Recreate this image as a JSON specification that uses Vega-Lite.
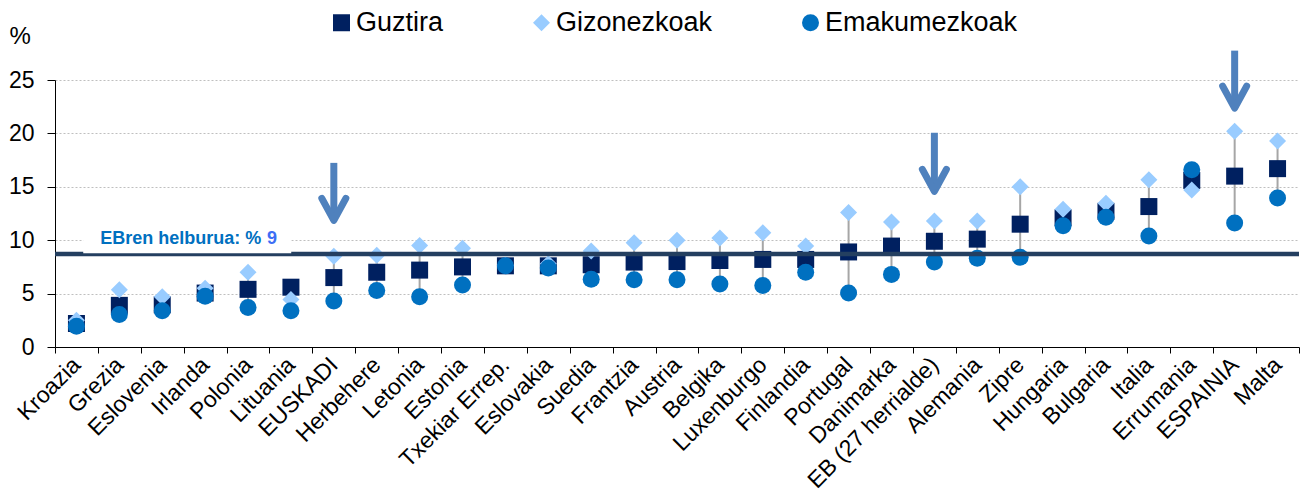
{
  "$schema": "https://vega.github.io/schema/vega-lite/v6.json",
  "autosize": {"type": "none"},
  "width": 1244,
  "height": 267,
  "padding": {"left": 55, "top": 80, "right": 11, "bottom": 155},
  "background": "white",
  "config": {"view": {"stroke": null}, "font": "Liberation Sans"},
  "datasets": {
    "tasa": [
      {"pais": "Kroazia", "Guztira": 2.2, "Gizonezkoak": 2.5, "Emakumezkoak": 1.95},
      {"pais": "Grezia", "Guztira": 3.9, "Gizonezkoak": 5.35, "Emakumezkoak": 3.05},
      {"pais": "Eslovenia", "Guztira": 3.95, "Gizonezkoak": 4.7, "Emakumezkoak": 3.4},
      {"pais": "Irlanda", "Guztira": 5.05, "Gizonezkoak": 5.5, "Emakumezkoak": 4.75},
      {"pais": "Polonia", "Guztira": 5.4, "Gizonezkoak": 7.0, "Emakumezkoak": 3.7},
      {"pais": "Lituania", "Guztira": 5.6, "Gizonezkoak": 4.45, "Emakumezkoak": 3.4},
      {"pais": "EUSKADI", "Guztira": 6.5, "Gizonezkoak": 8.5, "Emakumezkoak": 4.3},
      {"pais": "Herbehere", "Guztira": 7.0, "Gizonezkoak": 8.6, "Emakumezkoak": 5.3},
      {"pais": "Letonia", "Guztira": 7.2, "Gizonezkoak": 9.5, "Emakumezkoak": 4.7},
      {"pais": "Estonia", "Guztira": 7.5, "Gizonezkoak": 9.25, "Emakumezkoak": 5.8},
      {"pais": "Txekiar Errep.", "Guztira": 7.6, "Gizonezkoak": 7.65, "Emakumezkoak": 7.6},
      {"pais": "Eslovakia", "Guztira": 7.6, "Gizonezkoak": 7.8, "Emakumezkoak": 7.4},
      {"pais": "Suedia", "Guztira": 7.7, "Gizonezkoak": 9.0, "Emakumezkoak": 6.35},
      {"pais": "Frantzia", "Guztira": 7.95, "Gizonezkoak": 9.75, "Emakumezkoak": 6.3},
      {"pais": "Austria", "Guztira": 8.0, "Gizonezkoak": 10.0, "Emakumezkoak": 6.3},
      {"pais": "Belgika", "Guztira": 8.1, "Gizonezkoak": 10.2, "Emakumezkoak": 5.9},
      {"pais": "Luxenburgo", "Guztira": 8.2, "Gizonezkoak": 10.7, "Emakumezkoak": 5.75},
      {"pais": "Finlandia", "Guztira": 8.2, "Gizonezkoak": 9.45, "Emakumezkoak": 7.0},
      {"pais": "Portugal", "Guztira": 8.9, "Gizonezkoak": 12.6, "Emakumezkoak": 5.05},
      {"pais": "Danimarka", "Guztira": 9.45, "Gizonezkoak": 11.7, "Emakumezkoak": 6.8},
      {"pais": "EB (27 herrialde)", "Guztira": 9.9, "Gizonezkoak": 11.8, "Emakumezkoak": 7.95},
      {"pais": "Alemania", "Guztira": 10.1, "Gizonezkoak": 11.8, "Emakumezkoak": 8.3},
      {"pais": "Zipre", "Guztira": 11.5, "Gizonezkoak": 15.0, "Emakumezkoak": 8.4},
      {"pais": "Hungaria", "Guztira": 12.1, "Gizonezkoak": 12.9, "Emakumezkoak": 11.35},
      {"pais": "Bulgaria", "Guztira": 12.7, "Gizonezkoak": 13.45, "Emakumezkoak": 12.15},
      {"pais": "Italia", "Guztira": 13.15, "Gizonezkoak": 15.65, "Emakumezkoak": 10.4},
      {"pais": "Errumania", "Guztira": 15.6, "Gizonezkoak": 14.7, "Emakumezkoak": 16.6},
      {"pais": "ESPAINIA", "Guztira": 16.0, "Gizonezkoak": 20.2, "Emakumezkoak": 11.6},
      {"pais": "Malta", "Guztira": 16.7, "Gizonezkoak": 19.3, "Emakumezkoak": 13.95}
    ],
    "arrows": [
      {"pais": "EUSKADI", "top": 17.24, "tip": 11.86},
      {"pais": "EB (27 herrialde)", "top": 20.06, "tip": 14.57},
      {"pais": "ESPAINIA", "top": 27.75, "tip": 22.37}
    ],
    "target": [
      {"value": 8.7, "label": "EBren helburua: % ", "num": "9", "boxLo": 8.78, "boxHi": 11.2, "textY": 10.13}
    ]
  },
  "layer": [
    {
      "data": {"name": "tasa"},
      "transform": [
        {"fold": ["Guztira", "Gizonezkoak", "Emakumezkoak"], "as": ["serie", "valor"]},
        {"aggregate": [{"op": "min", "field": "valor", "as": "lo"}, {"op": "max", "field": "valor", "as": "hi"}], "groupby": ["pais"]}
      ],
      "mark": {"type": "rule", "color": "#a6a6a6", "strokeWidth": 2},
      "encoding": {
        "x": {
          "field": "pais", "type": "nominal", "sort": null,
          "axis": {
            "title": null, "labelAngle": -45, "labelAlign": "right", "labelBaseline": "middle",
            "labelFontSize": 23, "labelColor": "#000", "labelLimit": 0,
            "tickBand": "extent", "tickSize": 6, "tickColor": "#000", "domainColor": "#000",
            "labelPadding": 8, "grid": false
          }
        },
        "y": {
          "field": "lo", "type": "quantitative",
          "scale": {"domain": [0, 25], "nice": false},
          "axis": {
            "title": "%", "titleAngle": 0, "titleFontSize": 24, "titleFontWeight": "normal",
            "titleColor": "#000", "titleAlign": "left", "titleBaseline": "alphabetic",
            "titleX": -46, "titleY": -37,
            "values": [0, 5, 10, 15, 20, 25], "labelFontSize": 23, "labelColor": "#000",
            "tickSize": 8, "labelPadding": 13, "domainColor": "#000", "tickColor": "#000",
            "gridColor": "#bfbfbf", "gridDash": [2, 2]
          }
        },
        "y2": {"field": "hi"}
      }
    },
    {
      "data": {"name": "tasa"},
      "transform": [
        {"fold": ["Guztira", "Gizonezkoak", "Emakumezkoak"], "as": ["serie", "valor"]}
      ],
      "mark": {"type": "point", "filled": true, "opacity": 1, "size": 289},
      "encoding": {
        "x": {"field": "pais", "type": "nominal", "sort": null},
        "y": {"field": "valor", "type": "quantitative"},
        "color": {
          "field": "serie", "type": "nominal",
          "scale": {"domain": ["Guztira", "Gizonezkoak", "Emakumezkoak"], "range": ["#002060", "#99ccff", "#0070c0"]},
          "legend": {
            "orient": "none", "legendX": 273, "legendY": -71, "direction": "horizontal", "title": null,
            "labelFontSize": 27, "labelColor": "#000", "labelLimit": 0, "symbolSize": 289, "labelOffset": 1,
            "columnPadding": 84, "symbolOpacity": 1, "symbolStrokeWidth": 0
          }
        },
        "shape": {
          "field": "serie", "type": "nominal",
          "scale": {"domain": ["Guztira", "Gizonezkoak", "Emakumezkoak"], "range": ["square", "diamond", "circle"]},
          "legend": {
            "orient": "none", "legendX": 273, "legendY": -71, "direction": "horizontal", "title": null,
            "labelFontSize": 27, "labelColor": "#000", "labelLimit": 0, "symbolSize": 289, "labelOffset": 1,
            "columnPadding": 84, "symbolOpacity": 1, "symbolStrokeWidth": 0
          }
        }
      }
    },
    {
      "data": {"name": "target"},
      "mark": {"type": "rule", "color": "#243f60", "strokeWidth": 4.5},
      "encoding": {"y": {"field": "value", "type": "quantitative"}}
    },
    {
      "data": {"name": "target"},
      "mark": {"type": "bar", "color": "white", "width": 208, "xOffset": 25},
      "encoding": {
        "x": {"datum": "Eslovenia", "type": "nominal"},
        "y": {"field": "boxLo", "type": "quantitative"},
        "y2": {"field": "boxHi"}
      }
    },
    {
      "data": {"name": "target"},
      "mark": {"type": "text", "align": "left", "baseline": "middle", "dx": -19, "fontSize": 18, "fontWeight": "bold", "color": "#0070c0"},
      "encoding": {
        "x": {"datum": "Grezia", "type": "nominal"},
        "y": {"field": "textY", "type": "quantitative"},
        "text": {"field": "label"}
      }
    },
    {
      "data": {"name": "target"},
      "mark": {"type": "text", "align": "left", "baseline": "middle", "dx": 19, "fontSize": 18, "fontWeight": "bold", "color": "#3d6ef5"},
      "encoding": {
        "x": {"datum": "Polonia", "type": "nominal"},
        "y": {"field": "textY", "type": "quantitative"},
        "text": {"field": "num"}
      }
    },
    {
      "data": {"name": "arrows"},
      "mark": {"type": "rule", "color": "#4f81bd", "strokeWidth": 7},
      "encoding": {
        "x": {"field": "pais", "type": "nominal", "sort": null},
        "y": {"field": "top", "type": "quantitative"},
        "y2": {"field": "tip"}
      }
    },
    {
      "data": {"name": "arrows"},
      "mark": {"type": "point", "filled": false, "opacity": 1, "shape": "M-1,-1.83L0,0L1,-1.83", "size": 576, "color": "#4f81bd", "strokeWidth": 7, "strokeCap": "round", "strokeJoin": "round"},
      "encoding": {
        "x": {"field": "pais", "type": "nominal", "sort": null},
        "y": {"field": "tip", "type": "quantitative"}
      }
    }
  ]
}
